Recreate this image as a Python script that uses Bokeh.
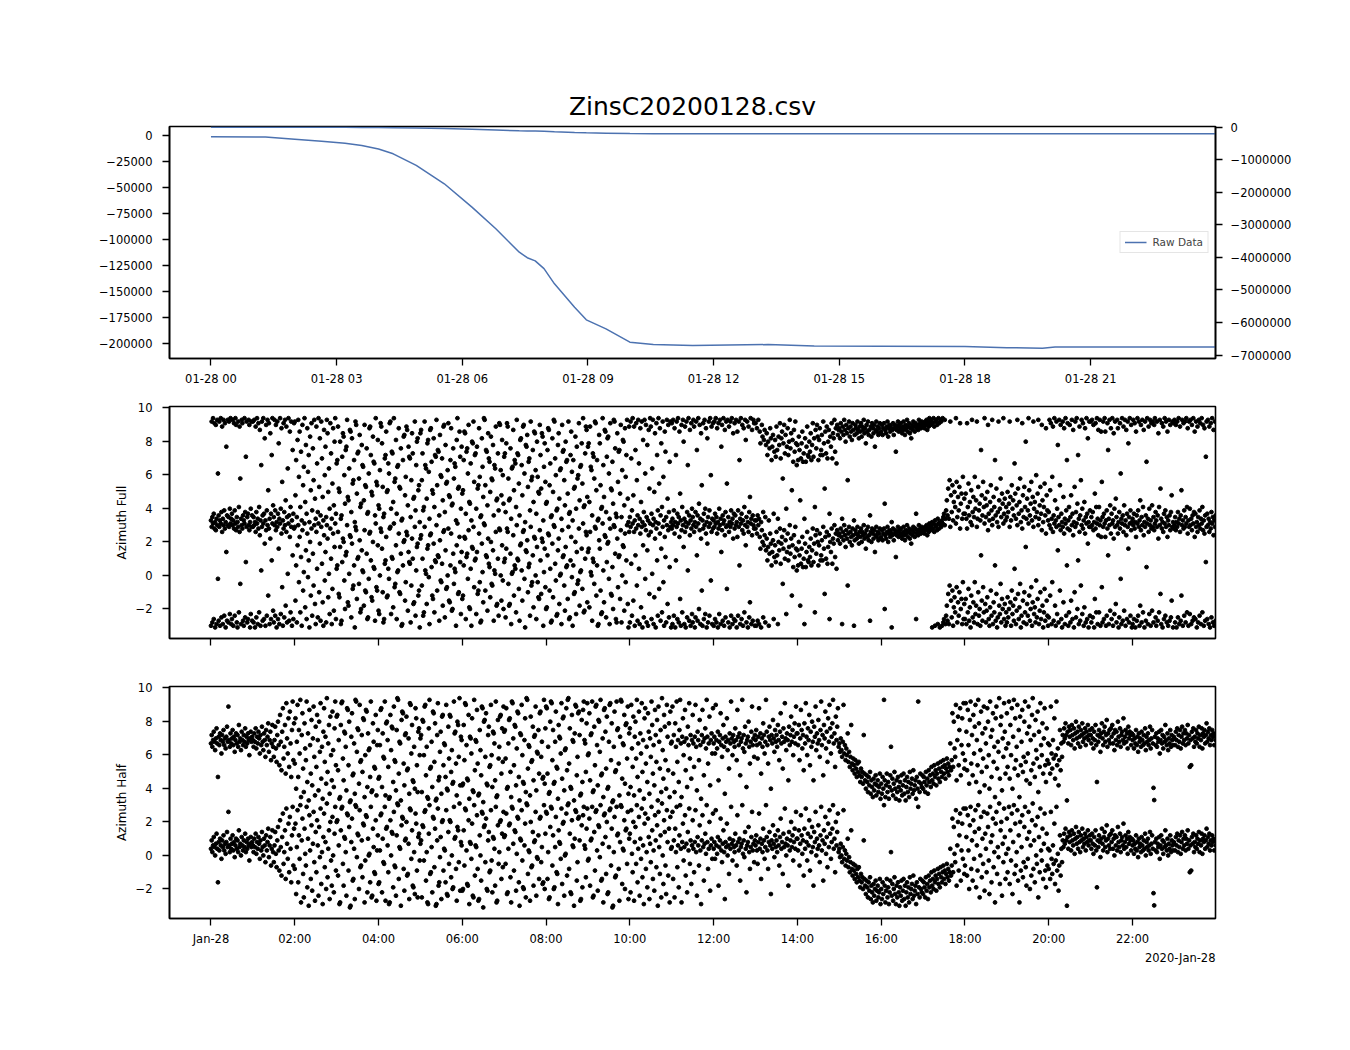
import numpy as np
import pandas as pd
from bokeh.plotting import figure
from bokeh.models import (Range1d, LinearAxis, FixedTicker, DatetimeTickFormatter,
                          Legend, LegendItem, Title, ColumnDataSource, CustomLabelingPolicy)
from bokeh.layouts import column
from bokeh.embed import file_html
from bokeh.resources import INLINE

TITLE = "ZinsC20200128.csv"
DAY = "2020-01-28"
DATE_NOTE = "2020-Jan-28"
FONT = "DejaVu Sans"
BLUE = "#4c72b0"

# ---- top panel: raw data (hours after midnight, value) ----
raw_hours = [0.0, 1.3, 2.0, 2.64, 3.2, 3.6, 4.0, 4.35, 4.9, 5.57, 6.23, 6.8, 7.36, 7.55,
             7.74, 7.95, 8.2, 8.68, 8.96, 9.43, 10.0, 10.56, 11.5, 13.3, 14.4, 16.0,
             18.0, 19.0, 19.85, 20.15, 23.97]
raw_values = [-1300, -1400, -3500, -5500, -7500, -9600, -13000, -17600, -28800, -46400,
              -68900, -89700, -112200, -117500, -120500, -128000, -142600, -165100,
              -177200, -185900, -198700, -201000, -201800, -201000, -202500, -202700,
              -202800, -204000, -204500, -203300, -203300]

# ---- azimuth angles (rad), one row per hour, samples evenly spaced in the hour ----
az_full = [
    [-3.0, 2.9, -2.8, 3.1, -2.6, 2.8, -3.1, 2.7, -2.9, 3.0, -0.2, -2.7, 2.9, -3.0, 3.1, -2.5, 2.6, -2.9, 3.0, -2.4, 2.8, -3.1, 1.4, -2.7, 3.0, -2.8, 2.9, -2.3, 3.1, -2.9,
     -2.6, 3.0, -3.0, 2.8, -2.4, 3.1, 2.7, -2.8, -3.1, 2.9, -2.2, 2.6, -0.5, -2.9, 3.0, 2.8, -2.7, -3.0, 3.1, -2.5, 0.8, 2.9, -2.8, -2.6, 3.0, 2.7, -3.1, -2.3, 2.9, -2.7],
    [2.9, -2.8, 3.0, -3.1, 2.6, -2.5, 3.1, -2.9, 2.8, -2.2, 2.4, -3.0, 0.3, 2.9, -2.7, 3.1, -2.6, 1.9, -3.0, 2.7, -2.4, 3.0, -1.2, 2.8, -2.9, 2.2, -2.6, 0.9, 3.1, -2.1,
     -2.8, 3.0, -2.4, 2.7, -3.1, 2.9, -2.6, 1.6, -2.9, 3.1, -2.3, 2.5, -0.7, -3.0, 2.8, -2.5, 3.0, -1.8, 2.6, -2.8, 0.1, 3.1, -2.7, 2.3, -2.2, 2.9, -3.0, 1.2, -2.6, 2.8],
    [2.9, -1.5, 0.6, -2.8, 1.8, 3.0, -0.4, 2.3, -2.2, 1.1, -3.0, 2.7, -0.9, 0.2, 3.1, -1.9, 1.5, -2.6, 2.5, -0.1, 0.9, -3.1, 2.0, -1.2, 2.8, -2.4, 1.3, -0.6, 3.0, -1.7,
     -2.9, 2.6, 0.4, -2.5, 3.1, -1.0, 1.9, -2.7, 2.9, 0.7, -1.6, -3.0, 2.4, -0.3, 1.4, -2.8, 3.0, 2.2, -1.3, 0.1, -2.3, 2.8, 1.0, -2.9, -0.8, 2.5, -2.1, 1.7, 3.1, -2.6],
    [0.4, 0.6, 2.6, -1.1, -1.3, 1.7, -2.9, -2.7, 0.8, 2.2, 2.0, -0.3, -2.0, 1.2, 1.4, 3.0, -1.6, -1.8, 0.1, 2.4, 2.3, -2.5, 1.9, -0.8, -0.6, 0.6, -3.1, 2.9, 2.7, -1.4,
     1.0, 1.1, -0.5, 2.1, -2.2, -2.0, 1.5, 0.3, 0.2, -1.8, 2.7, -0.9, -1.0, 1.3, -2.6, -2.5, -0.2, 2.5, 2.6, 0.9, -1.3, -1.5, 2.0, 0.5, 0.4, -2.7, 3.1, -0.7, -0.9, 1.8],
    [-2.1, -2.3, 0.0, 2.8, 2.6, 1.6, -1.0, -2.8, -2.6, 0.7, 0.9, 2.3, -1.3, -1.2, 0.4, -0.2, 2.8, 2.9, -2.3, 1.1, 1.0, -1.9, 3.1, -0.7, -0.5, 1.8, -2.6, 0.2, 0.3, 2.5,
     -1.0, -1.1, 1.3, -3.0, -2.9, 0.6, 2.0, 2.1, -1.5, -0.4, 2.6, 2.4, -2.1, 1.4, 0.8, 0.7, -2.8, -0.6, 2.2, 1.0, -1.7, -1.6, 2.9, -2.4, 0.3, 1.7, 1.9, -1.2, -0.9, -3.1],
    [2.2, 2.4, -0.6, 1.0, -2.4, -2.2, 2.9, 0.3, 0.1, -1.7, 1.6, 1.8, -0.1, -2.9, 2.4, 2.5, 0.5, -1.2, -1.4, 1.9, -2.2, 0.9, 0.8, 3.0, -0.9, 1.2, 1.1, -2.7, 2.1, -0.3,
     -0.4, 0.7, -1.8, 2.6, 2.7, -2.5, 1.5, -0.8, -0.7, 0.0, 2.8, -1.5, -1.6, 0.6, 2.5, -2.1, -2.0, 1.3, -0.5, 0.4, 0.2, -3.0, 1.8, 3.1, -1.1, -1.0, 2.3, 0.8, -2.3, 1.4],
    [-1.4, -1.2, 0.6, 2.3, 2.2, -2.6, 1.1, 1.3, -0.2, 2.7, -1.9, -2.0, 0.4, -3.0, 1.7, 1.6, 2.9, -0.7, 0.9, 1.0, -2.3, 1.4, -1.1, -0.9, 2.5, -0.4, -2.8, -2.7, 1.9, 0.2,
     -1.6, 3.1, 3.0, -0.9, 1.2, 1.1, -2.1, 2.2, 0.7, 0.5, -1.3, 2.0, -0.5, -0.6, 1.5, -2.7, 0.3, 0.1, 2.6, -1.8, -1.7, 1.0, -2.4, 2.8, 2.7, 0.0, -1.5, 1.8, -0.3, -2.0],
    [0.8, 1.0, -2.5, 1.6, 2.8, 2.6, -0.5, -1.8, -1.7, 1.3, -2.9, 0.1, 0.2, 2.4, -1.2, 0.6, 0.4, -2.2, 3.0, 1.0, 0.9, -0.8, -2.7, 1.8, 1.9, 0.3, -1.5, 2.6, 2.7, -0.2,
     -3.1, 1.5, 1.4, 2.1, -1.0, 0.5, 0.7, -2.4, 2.9, -0.6, -0.4, 1.2, -1.9, 2.3, 2.2, 0.0, -2.6, 1.7, -0.4, -1.3, -1.4, 2.7, 0.9, -1.1, 2.2, 2.0, -3.0, 0.2, 1.6, -0.7],
    [-2.0, -1.9, 1.2, 2.5, 2.4, -0.9, 0.4, -2.8, -2.7, 1.9, -1.3, 3.0, 2.9, 0.7, -0.3, -2.4, -2.3, 1.5, 2.2, -1.7, 0.0, 0.1, -2.9, 2.7, 1.1, 1.2, -0.6, -2.1, 1.7, 0.5,
     0.6, -1.4, 2.9, -2.6, -2.5, 0.9, 2.3, -0.1, -3.0, 0.6, -1.1, -1.0, 2.0, -2.3, 1.4, -0.5, -0.3, 2.8, -1.8, 0.2, 0.3, 1.6, -0.8, 3.1, -2.2, -2.1, 1.0, 2.6, 2.4, -1.6],
    [1.4, 1.6, -1.9, 2.6, 0.2, 0.0, -2.7, 1.0, 0.8, -0.5, 2.9, 2.8, -1.2, 0.6, -3.0, -2.9, 2.1, 1.6, -0.9, -2.3, -2.2, 3.1, 0.3, -1.6, 2.4, 2.3, -2.5, 0.8, 1.9, 2.0,
     -0.2, -2.9, 2.8, -1.1, -1.2, 0.5, -2.0, 3.0, 2.9, 1.3, -2.6, -2.8, 2.2, -0.7, 1.1, 1.2, -1.4, 2.7, -2.8, 0.0, 1.8, 1.7, -2.1, 2.5, -0.4, 0.9, 3.0, -1.7, -3.1, 2.6],
    [-2.8, 2.9, 0.7, -2.4, 3.1, -1.5, 2.6, -3.0, 1.2, 2.8, -0.6, -2.7, 3.0, 0.4, -2.9, 2.5, -1.9, 2.9, -3.1, 1.8, -2.5, 3.0, -0.2, 2.7, -2.8, 1.5, -3.0, 2.4, -1.1, 3.1,
     2.6, -2.6, 0.1, 3.0, -2.9, -1.3, 2.2, -3.1, 2.8, 0.9, -2.4, 3.1, -0.8, 2.5, -2.7, 1.6, -2.2, 2.9, -0.4, -3.0, 2.3, 1.1, -2.8, 3.0, -1.7, 2.7, -2.5, 0.5, 2.9, -3.1],
    [2.8, -2.9, 3.0, -2.4, 2.5, -3.1, 0.9, 2.9, -2.6, 3.1, -2.8, 2.3, -1.4, -3.0, 2.7, -2.2, 3.0, 1.7, -2.9, 2.6, -3.1, 2.9, -2.5, 0.3, 3.1, -2.7, 2.4, -3.0, 2.8, -2.3,
     -2.8, 3.0, 2.6, -3.1, -2.5, 2.9, 1.2, -2.7, 3.1, -2.0, 2.7, -2.9, 2.2, -0.9, -3.0, 2.8, -2.6, 3.0, -2.3, 2.5, -3.1, 1.9, -2.8, 2.9, -2.4, 3.1, -0.3, 2.6, -2.9, 2.8],
    [-3.0, 2.9, -2.6, 3.1, -2.8, 2.5, -3.1, 2.8, -2.3, 3.0, -2.9, 1.4, 2.7, -2.7, 3.1, -3.0, 2.4, -2.5, 2.9, -0.8, 3.0, -2.8, 2.6, -3.1, 2.9, -2.4, 3.1, -2.9, 2.2, -2.6,
     2.8, -2.7, 3.0, -3.1, 2.3, -2.4, 2.9, 0.6, -2.9, 3.1, -2.6, 2.7, -3.0, 2.5, -2.2, 3.0, 1.8, -2.8, 2.9, -3.1, 2.6, -2.5, -1.6, 3.1, -2.9, 2.4, -2.7, 3.0, 2.8, -3.0],
    [2.8, -3.0, 2.5, -2.7, 3.0, -2.9, 2.3, 1.6, -3.1, 2.7, 2.0, -2.5, 1.8, 2.4, -2.8, 1.5, 2.2, 0.9, 1.7, -3.0, 1.3, 2.5, 1.9, 0.6, 1.4, 2.1, -2.6, 1.1, 1.8, 0.8,
     2.6, 1.2, -2.9, 2.0, 1.5, 2.8, 0.7, 1.9, 2.3, -0.5, 1.6, 2.7, 1.0, 2.1, -2.3, 1.4, 2.5, 0.9, 1.7, 3.0, 1.3, 2.2, -1.2, 1.8, 0.5, 2.4, 1.1, 2.9, 1.6, 0.3],
    [1.5, 0.6, 2.0, 1.2, -1.8, 0.7, 1.6, 2.3, 0.5, 1.0, -2.9, 1.9, 0.5, 1.4, 2.6, 0.9, 0.8, 1.7, 1.1, 2.2, 0.6, 1.5, 2.8, 0.8, 1.9, -2.2, 2.4, 1.3, 2.7, 2.0,
     0.6, 1.8, 2.5, 0.9, 1.2, 2.1, 0.9, 2.9, 1.6, -1.1, 2.3, 1.0, 2.6, 0.7, 1.7, 2.4, -2.6, 2.0, 1.4, 2.8, 0.7, 2.2, 1.9, 3.0, 1.1, 2.5, 0.4, 2.7, 2.1, 2.4],
    [2.5, 1.9, 2.8, 2.3, -2.9, 2.6, 2.1, 3.0, 2.4, 1.7, 2.7, 2.2, -0.6, 2.5, 2.9, 2.0, 2.6, 2.3, 1.8, 2.8, 2.4, -3.0, 2.1, 2.7, 2.5, 2.2, 2.9, 2.4, 1.9, 2.6,
     2.3, 2.8, 2.0, 2.6, 2.4, 3.0, 2.2, 2.5, 1.6, 2.7, 2.3, 2.9, 2.1, 2.4, -2.7, 2.6, 2.0, 2.8, 2.5, 2.2, 2.7, 1.4, 2.4, 2.9, 2.3, 2.6, 2.1, 2.5, 2.8, 2.2],
    [2.3, 2.7, 2.1, 2.5, 2.8, -2.0, 2.4, 2.2, 2.6, 2.9, 2.0, 2.5, 2.7, 2.3, 2.6, -3.1, 2.4, 2.8, 2.1, 2.5, 2.7, 1.1, 2.4, 2.6, 2.9, 2.3, 2.7, 2.5, 2.8, 2.4,
     2.2, 2.6, 2.9, 2.4, 2.1, 2.7, 2.5, 3.0, 2.3, 2.6, 2.8, 2.2, 2.5, 1.9, 2.7, 2.4, 2.9, 2.6, 2.3, 2.8, -2.6, 2.5, 2.7, 2.4, 3.0, 2.6, 2.8, 2.5, 2.9, 2.7],
    [2.6, 2.8, 2.5, 2.9, 2.7, 3.0, 2.4, 2.8, 2.6, 3.1, 2.9, 2.7, 3.0, -3.1, 2.8, 3.1, 2.6, -3.0, 2.9, 3.0, 2.7, -2.9, 3.1, 2.8, -3.1, 3.0, 2.9, -3.0, 3.1, -2.8,
     -2.6, 3.0, -2.9, -2.4, -1.8, -2.7, -1.1, -2.9, -0.6, 2.9, -1.5, -2.5, -0.9, -3.0, -1.9, -1.3, -2.2, 3.1, -0.7, -2.8, -1.6, -2.4, -1.0, 2.8, -2.0, -1.4, -2.9, -0.4, -2.6, -1.7],
    [-2.6, -1.4, -2.9, 2.8, -2.2, -0.8, -2.7, -1.9, -3.1, -1.2, 3.0, -2.5, -1.6, -2.8, -0.4, -2.3, -1.8, 2.9, -2.9, -1.0, -2.4, -2.0, -3.0, 1.2, -1.5, -2.7, -0.7, -2.2, 3.1, -1.7,
     -2.8, -2.1, -1.3, 2.7, -2.6, -3.0, -1.9, -0.9, -2.4, 3.0, -2.9, -1.6, -2.2, 0.6, -2.7, -1.1, -3.1, -2.5, 2.9, -1.8, -2.3, -0.5, -2.8, -1.4, -2.0, 3.1, -2.6, -1.7, -3.0, -2.2],
    [-2.8, -1.3, -2.5, -2.0, 2.9, -1.6, -3.0, -0.9, -2.3, -1.8, -2.7, 0.4, -1.4, -2.9, -2.1, 3.0, -1.1, -2.6, -1.9, -0.5, -3.1, -2.4, 2.8, -1.5, -2.8, -1.0, -2.2, 1.7, -2.9, -1.7,
     -2.4, 3.1, -1.2, -2.7, -2.0, -0.7, -3.0, -1.6, 2.9, -2.3, -1.9, -2.8, -0.3, -2.5, -1.4, 3.0, -2.9, -2.1, -1.0, -2.6, 2.7, -1.8, -3.1, -2.2, -0.8, -2.7, 2.5, -1.5, -2.4, -3.0],
    [-2.5, 3.0, -1.2, 2.8, -2.9, -0.4, 2.6, -2.7, 3.1, -1.8, -3.0, 2.9, -2.3, 1.5, -2.8, 3.0, -0.9, 2.7, -2.6, -3.1, 2.9, -1.6, 2.5, -2.9, 3.1, -2.4, 0.6, 2.8, -3.0, -2.2,
     2.7, -2.8, -1.5, 3.0, -2.6, 2.4, -3.1, -1.0, 2.9, -2.5, 3.1, -2.0, 0.9, -2.9, 2.6, -2.7, -0.6, 3.0, -2.3, 2.8, -3.0, -1.9, 2.5, -2.8, 3.1, -2.6, 1.9, -3.1, 2.9, -2.4],
    [2.9, -2.8, 3.0, -2.5, 2.7, -3.1, -1.4, 2.8, -2.2, 3.1, -2.9, 2.4, -2.2, 3.0, -3.0, 2.3, -0.7, -2.8, 2.9, -2.6, 3.1, 2.3, -3.0, -2.4, 2.8, 1.2, -2.9, 3.0, -2.1, 2.5,
     -2.6, 3.1, -3.0, 2.2, -2.3, 2.9, -1.7, -2.8, 3.0, 2.5, -3.1, -2.5, 2.8, -0.2, -2.9, 3.1, -2.7, 2.6, -2.1, 3.0, -3.0, 2.4, -2.6, 2.9, 1.6, -2.8, 3.1, -2.4, 2.7, -3.1],
    [-2.9, 3.0, -2.6, 2.8, -3.1, 2.3, -2.7, 3.1, -2.4, 2.9, -3.0, -1.8, 2.7, -2.8, 3.0, -2.2, 2.4, -3.1, 2.9, -2.7, 0.5, 3.1, -2.9, 2.6, -2.3, 3.0, -3.0, 2.8, -2.1, 2.9,
     -2.8, 2.7, 3.1, -2.5, -3.0, 2.9, -2.7, 2.2, -2.2, 3.0, -1.1, -2.9, 2.8, -3.1, 2.6, -2.6, 3.1, -2.4, 2.9, -2.8, 2.3, -3.0, 3.0, -2.7, 2.7, -2.5, -1.5, 2.9, -3.1, 2.8],
    [3.0, -2.8, 2.7, -3.1, 2.9, -2.5, 3.1, -2.9, 2.6, -2.7, -1.2, 3.0, -3.0, 2.8, -2.4, 2.9, -2.8, 3.1, -2.2, 2.5, -3.0, 2.9, -2.3, 3.0, -2.9, 2.7, -2.7, 3.1, -2.5, 2.3,
     -2.6, 2.9, -3.1, 2.6, -2.8, 3.0, -2.4, 2.8, -2.9, 3.1, -2.2, 2.7, -3.0, 2.5, -2.7, 0.8, 2.9, -2.6, 3.0, -2.9, 2.6, -3.1, 2.8, -2.5, 3.1, -2.8, 2.4, -3.0, 2.9, -2.7],
]

az_half = [
    [0.4, 0.9, 0.2, 0.6, 1.1, 0.5, 0.0, 0.7, 1.3, 0.4, -1.6, 0.8, 0.3, 1.0, 0.6, -0.2, 0.9, 0.5, 1.2, 0.3, 0.7, 0.1, 0.8, 1.4, 0.5, 2.6, 0.6, 0.2, 1.0, 0.4,
     0.7, 1.2, 0.3, 0.8, -0.1, 0.6, 1.0, 0.4, 0.9, 0.2, 1.5, 0.5, 0.7, 0.0, 1.1, 0.6, 0.3, 0.9, 0.5, 1.3, 0.2, 0.8, 0.4, 1.0, 0.6, -0.3, 0.7, 1.1, 0.5, 0.8],
    [0.6, 0.2, 1.0, 0.5, 1.3, 0.1, 0.8, 0.4, 1.1, 0.7, -0.2, 0.9, 0.3, 1.4, 0.5, 0.0, 1.0, 0.6, -0.4, 1.2, 0.3, 0.8, 1.6, -0.1, 0.6, 1.1, -0.6, 0.4, 1.5, 0.2,
     -0.4, 0.6, 1.4, 0.1, -0.7, 0.9, 1.7, 0.3, -0.9, 2.1, 0.5, -1.2, 1.1, 2.5, -0.5, 0.2, 1.5, -1.4, 2.8, 0.7, -0.2, 1.9, -1.0, 2.3, 0.4, -1.6, 1.2, 2.9, -0.6, 1.6],
    [-0.8, 1.9, -2.3, 0.5, 2.7, -1.6, 1.2, -0.2, 3.0, -2.8, 0.9, 2.2, -1.1, -2.5, 1.6, 0.1, -0.6, 2.9, -1.9, 1.0, -3.0, 2.4, 0.3, -1.4, 1.8, -2.1, 0.7, 2.6, -0.4, -2.7,
     1.4, -1.0, 2.1, 0.6, -2.4, 1.7, -0.1, 2.8, -1.7, 0.2, -2.9, 1.1, 2.5, -0.7, 0.8, -2.0, 3.1, -1.3, 0.4, 1.5, -2.6, 2.0, -0.3, -1.8, 2.3, 0.0, -2.2, 1.3, 2.9, -0.9],
    [2.0, 2.1, -1.2, 0.6, -2.9, -2.8, 1.5, 2.8, 2.9, -0.5, -1.8, 1.1, 1.0, 0.2, -2.4, 2.5, 2.4, -0.9, 1.7, -3.1, -3.0, 0.8, 2.2, -1.5, -1.4, 0.4, -2.6, 3.0, 2.9, -0.1,
     1.3, 1.2, -2.0, 2.7, -0.7, -0.6, 0.9, -1.3, 1.9, 1.8, -2.8, -0.3, 2.4, 2.3, -2.2, 1.0, 0.0, 0.1, -1.6, 2.9, -2.5, -2.4, 1.6, 0.5, -1.0, -1.1, 2.1, -2.7, 0.3, 1.2],
    [-1.7, -1.6, 0.3, 2.4, 2.5, -2.2, 1.0, -0.4, -0.5, 2.9, -2.7, 1.6, 1.7, 0.6, -1.0, -2.9, -2.8, 2.1, 0.0, 1.4, 1.3, -1.9, 2.6, -0.6, -0.7, -2.4, 1.2, 3.1, 3.0, -1.4,
     0.5, 0.4, -3.0, 1.8, 2.3, 2.2, -0.8, -2.1, 0.9, 1.0, 2.0, -1.2, -1.1, 0.7, -2.6, 2.8, 2.7, -0.2, 1.5, -1.8, -1.9, 0.2, -2.3, 2.5, 1.9, -0.9, -2.5, 1.1, 1.3, -0.3],
    [0.7, 0.9, -2.5, 1.8, 1.7, -0.3, 2.6, 2.7, -1.5, 0.2, -2.8, -2.9, 1.3, 3.0, -1.1, -1.0, 0.5, -2.2, 2.3, 2.2, -0.7, 1.6, -3.0, -2.9, 0.9, 2.8, -1.8, -1.6, -0.1, 1.1,
     -2.6, 2.0, 2.1, -0.9, 0.4, 0.3, -1.6, 2.7, -2.3, -2.4, 1.4, -0.5, 2.1, 2.0, -1.3, 0.0, -2.0, -1.9, 2.9, 1.0, 1.1, -0.8, -2.7, 1.7, 1.5, -0.4, 3.1, -2.1, 0.8, 0.6],
    [-2.1, -2.0, 1.5, -0.6, 2.8, 2.7, 0.3, -1.7, -1.8, 2.1, -2.9, 0.8, 0.7, -0.2, 1.9, -2.4, -2.5, 3.0, -1.2, 0.6, 0.5, 2.4, -0.8, -2.7, -2.6, 1.2, 0.0, -1.5, 2.6, 2.5,
     -3.1, 1.7, 1.8, -0.4, 2.2, -2.0, -2.1, 0.9, 1.4, -1.0, -0.9, 2.7, -0.3, -2.2, 1.1, 1.0, 0.4, -1.8, 2.9, -2.8, -2.7, 1.8, -0.5, 0.2, 2.0, 2.1, -1.4, 1.3, -0.7, 2.6],
    [1.1, 1.2, -0.5, 2.5, -2.3, -2.2, 0.4, 1.8, 1.9, -1.3, -2.8, 2.9, 2.8, 0.7, -0.9, 1.5, 1.4, -2.1, 0.1, 2.3, 2.2, -1.6, -3.0, 1.0, 0.9, 2.7, -0.3, -1.9, -2.0, 0.6,
     1.9, -2.5, 3.1, 3.0, -1.1, 0.3, 0.2, -2.7, 2.0, -0.7, -0.6, 1.4, -1.8, 0.8, 0.9, 2.6, -2.4, -0.1, -0.2, 1.2, -1.4, 2.2, 2.3, -0.4, 0.5, -1.7, -1.6, 3.0, -2.0, 1.3],
    [2.6, 2.5, -1.4, 0.2, -2.6, -2.5, 1.7, 2.9, 2.8, -0.6, 1.2, -2.0, -1.9, 0.5, 2.3, -1.0, -1.1, -2.9, 1.5, 0.8, 0.7, -0.2, 2.8, -1.7, 1.9, 2.0, -2.4, 0.0, 0.1, 2.5,
     -1.2, 3.0, 3.1, -0.8, 1.3, -2.2, -2.3, 2.1, 0.6, 0.5, -3.0, 1.0, 2.7, 2.6, -1.5, -0.4, 2.2, 2.3, 0.9, -2.7, -2.6, 1.8, -1.9, 2.4, 2.9, 0.6, 0.4, -1.3, 1.6, 2.8],
    [-0.3, -0.2, 2.2, -1.8, 0.9, 1.0, 2.9, -2.5, -2.4, 1.4, -0.9, 2.6, 2.7, 0.3, -2.1, 1.8, 1.7, -0.1, 3.0, -1.5, -1.4, 0.7, -2.8, 2.4, 2.5, 1.1, -1.1, 2.0, -2.3, -2.2,
     0.5, 2.7, 2.8, -0.6, 1.6, -3.1, -3.0, 0.2, 2.3, -1.3, -1.2, 2.9, 1.2, 1.3, -0.8, -2.7, 0.8, 3.0, 2.9, -1.7, 0.4, 0.3, 2.1, -2.0, 1.5, 1.6, -0.5, 2.6, -2.6, 1.0],
    [1.3, -2.2, 2.7, 0.1, -1.0, 2.0, -2.7, 0.8, 1.7, -0.5, 3.0, -1.6, 0.4, 2.3, -2.4, 1.0, -0.2, 2.8, -1.3, 0.6, -2.9, 1.9, 2.5, -0.8, 0.2, -1.9, 2.2, 1.1, -2.6, 0.7,
     -0.4, 2.9, 1.5, -1.4, 0.3, -2.1, 2.4, 0.9, -0.7, 1.8, -3.0, 2.6, 0.5, -1.1, 1.2, -2.5, 3.1, 0.0, -1.7, 2.1, 1.4, -0.6, -2.3, 2.7, 0.8, -1.2, 1.6, -2.8, 2.3, 0.4],
    [0.5, 2.6, -1.4, 0.9, -2.5, 1.6, 0.2, 2.9, -0.7, 0.6, -1.9, 1.2, 3.0, 0.4, -2.8, 0.8, 1.9, -0.3, 0.5, 2.4, -1.2, 0.7, -2.2, 1.4, 0.3, 2.8, -0.5, 0.9, -1.7, 0.6,
     2.1, 0.4, -1.0, 0.8, 2.7, 0.2, -2.4, 1.1, 0.6, -0.6, 1.8, 0.3, -2.9, 0.9, 2.4, 0.5, -1.5, 0.7, 1.3, 0.1, 3.0, 0.8, -0.8, 0.4, 2.0, -2.1, 0.6, 1.0, -0.2, 2.5],
    [0.4, 0.8, -0.2, 2.7, 0.6, 0.1, 1.1, -1.8, 0.5, 0.9, 2.2, 0.3, -0.4, 0.7, 1.5, 0.2, -2.6, 0.8, 0.5, 1.9, 0.0, 0.6, -1.1, 1.0, 0.4, 2.9, 0.7, -0.3, 0.9, 0.5,
     0.2, 1.3, 0.6, -0.6, 2.4, 0.8, 0.3, 1.0, -1.5, 0.5, 0.7, 3.0, 0.1, 0.9, -0.1, 1.4, 0.4, -2.2, 0.6, 0.8, 1.7, 0.2, -0.8, 0.5, 1.1, 2.6, 0.3, 0.7, -0.4, 0.9],
    [0.6, 1.2, 0.3, -0.5, 0.8, 2.5, 0.4, 1.0, -1.4, 0.7, 0.2, 1.6, 0.9, -0.2, 0.5, 3.0, 1.1, 0.3, -0.8, 0.8, 1.4, 0.6, -2.3, 0.9, 0.4, 1.8, 0.7, -0.1, 1.2, 0.5,
     0.9, 0.2, 1.5, 0.6, -0.6, 1.1, 2.2, 0.4, 0.8, -1.1, 1.3, 0.5, 2.8, 0.7, 0.0, 1.0, 0.6, -1.8, 1.4, 0.3, 0.9, 2.0, 0.5, 1.2, -0.3, 0.8, 1.6, 0.4, 2.6, 1.0],
    [1.0, 0.3, 1.5, -0.6, 0.7, 2.4, 1.2, 0.1, 0.9, -1.2, 1.6, 0.4, 2.8, 0.8, -0.3, 1.3, 0.6, 2.1, -0.9, 1.1, 0.2, 1.7, 0.5, -1.8, 1.4, 0.8, 2.6, 0.0, 1.0, 0.4,
     1.8, 0.6, -0.4, 1.2, 2.9, 0.3, 0.9, -1.5, 1.5, 0.7, 2.3, 0.1, 1.1, -0.7, 1.9, 0.5, 2.7, 1.3, -0.2, 0.8, 1.6, 3.0, 0.4, 1.0, -1.0, 2.0, 0.6, 1.4, 2.5, 0.2],
    [0.4, -0.1, 0.7, 0.0, -0.4, 0.5, 2.7, -0.2, 0.3, -0.6, 0.1, -0.3, 1.0, -0.7, -0.1, -1.0, -0.4, 1.5, -0.8, -1.2, -0.5, -0.9, -1.4, -0.6, -1.1, -1.6, -0.8, -1.3, -0.7, -1.5,
     -1.9, -1.1, -1.6, -1.3, -2.0, 0.9, -1.4, -1.8, -2.3, -1.5, -1.9, -2.5, -1.6, -2.1, -1.3, -2.6, -1.8, -2.2, -2.8, -1.7, -2.4, -2.0, -1.5, -2.7, -2.1, -1.8, -2.5, -2.2, -1.4, -2.9],
    [-2.0, -2.6, -1.6, -2.3, 3.0, -1.8, -2.8, -2.1, -1.4, -2.5, -1.9, -2.9, -2.2, -1.5, 0.2, -2.4, -1.7, -2.7, -2.0, -1.3, -2.3, -2.9, -1.8, -2.5, -1.6, -2.2, -3.0, -1.9, -2.4, -1.5,
     -2.7, -2.1, -1.4, -2.6, -1.8, -3.0, -2.2, -1.6, -2.5, -1.9, -2.8, -1.3, -2.3, -2.0, -1.7, -2.6, -1.2, -2.4, -2.1, -1.8, -2.9, -1.6, -2.3, 2.9, -1.9, -2.5, -1.4, -2.0, -2.2, -1.5],
    [-2.3, -1.6, -1.9, -2.5, -1.3, -2.1, -1.7, -2.6, -1.2, -1.9, -1.5, -2.2, -1.0, -1.8, -1.4, -2.0, -0.9, -1.6, -1.2, -2.1, -1.4, -0.8, -1.7, -1.1, -1.9, -0.7, -1.3, -1.6, -1.0, -0.6,
     -1.4, -0.9, -1.7, -1.1, -0.5, -1.3, -0.8, -1.5, -1.0, 0.4, -1.2, -0.6, 2.2, -1.0, 1.7, 0.1, -0.4, 2.7, -1.8, 0.6, 2.0, -0.9, 1.2, 2.5, -1.5, 0.3, 1.9, -0.2, 2.8, -1.1],
    [-0.6, 2.8, 1.1, -1.2, 2.4, 0.3, -2.0, 1.8, 2.9, -0.8, 0.9, -1.5, 2.1, -0.2, 1.4, 2.7, -1.9, 0.6, -0.9, 3.0, 1.6, -2.5, 0.0, 2.3, -1.3, 1.0, -0.5, 2.6, -2.1, 1.3,
     0.4, -1.0, 2.5, 1.7, -0.3, -2.3, 2.9, 0.8, -1.6, 1.2, 2.2, -0.7, 0.2, -2.8, 1.9, 2.6, -1.1, 0.5, -0.1, 3.1, -1.7, 1.5, 2.0, -2.4, 0.7, -0.4, 2.8, 1.1, -1.4, 0.1],
    [2.2, -1.0, 0.4, 2.9, -1.7, 1.5, -0.3, 2.5, -2.3, 0.8, 3.0, -1.1, 1.9, -0.6, 0.2, 2.7, -1.5, 1.2, -2.8, 2.0, -0.9, 0.5, 2.4, -1.3, -0.4, 1.7, 2.9, -0.7, -1.8, 1.0,
     -0.2, 2.6, 1.4, -2.0, 0.6, -1.2, 2.1, 3.1, -0.8, 0.9, -1.6, 1.8, 0.0, -0.5, 2.3, -2.5, 1.1, -1.0, 2.8, 0.3, -0.3, 1.6, -1.4, 0.7, 2.5, -0.9, -1.9, 1.3, -0.6, 0.4],
    [-0.8, 0.3, -1.4, 2.6, -0.2, -1.1, 0.6, -0.5, 1.9, -1.7, -0.3, 2.9, -0.9, 0.1, -2.1, -0.6, 1.2, -1.2, 0.4, -0.4, 0.9, 0.5, 1.3, 0.7, 1.6, 0.9, -3.0, 1.1, 0.4, 1.4,
     0.8, 1.2, 0.3, 1.5, 0.9, 0.6, 1.3, 0.1, 1.0, 1.7, 0.7, 1.1, 0.4, 1.4, 0.8, 0.2, 1.2, 0.9, 1.6, 0.5, 1.0, 0.7, 1.3, 0.3, 1.1, 0.8, 1.5, 0.6, 0.9, 1.2],
    [0.9, 0.4, 1.3, 0.7, 0.1, 1.1, 0.6, 1.5, 0.3, -1.9, 0.9, 0.5, 1.2, 0.8, -0.1, 1.0, 1.6, 0.7, 0.3, 1.1, 1.4, 0.5, 0.9, 1.8, 0.2, 1.0, 0.6, 1.2, 0.4, 1.3,
     0.8, 1.5, 0.4, 1.0, 0.0, 1.2, 0.6, 1.1, 0.3, 1.7, 0.8, 0.5, 1.3, 0.2, 0.9, 1.1, 0.6, 1.9, 0.4, 0.8, 1.2, 0.5, 1.0, 0.1, 1.4, 0.7, 1.1, 0.9, 0.3, 1.0],
    [0.6, 0.9, 0.1, 0.7, 0.4, 1.2, 0.3, 0.8, -0.1, 1.0, 0.5, 0.7, 0.2, 1.1, 0.6, 0.3, 0.9, 0.4, 1.3, 0.0, 0.8, 0.5, 1.0, 0.3, 0.6, 1.4, 0.1, 0.7, 1.2, 0.4,
     -2.25, -2.98, 0.8, 0.3, 1.0, 0.2, 0.7, 0.5, 1.1, -0.2, 0.6, 1.2, 0.4, 0.9, 0.1, 0.8, 0.5, 1.5, 0.6, 0.3, 1.0, 0.0, 0.7, 0.4, 1.2, 0.2, 0.9, 0.6, 0.3, 0.8],
    [0.7, 0.3, 1.1, 0.6, 1.3, 0.2, 0.9, 0.5, 1.2, 0.1, 0.8, 1.4, 0.4, 1.0, 0.6, 1.2, 0.3, 1.0, 0.7, 1.5, 0.4, 0.9, -1.0, 0.6, -0.9, 1.1, 0.7, 1.3, 0.2, 0.8,
     0.5, 1.2, 0.4, 1.0, 0.7, 1.4, 0.2, 0.9, 0.6, 1.3, 0.1, 1.0, 0.8, 1.2, 0.4, 0.9, 1.6, 0.5, 1.1, 0.7, 1.3, 0.3, 0.9, 0.6, 1.2, 0.8, 1.0, 0.3, 0.9, 0.6],
]

left_ticks = [0, -25000, -50000, -75000, -100000, -125000, -150000, -175000, -200000]
right_ticks = [0, -1000000, -2000000, -3000000, -4000000, -5000000, -6000000, -7000000]
az_ticks = [-2, 0, 2, 4, 6, 8, 10]
top_tick_hours = [0, 3, 6, 9, 12, 15, 18, 21]
bottom_tick_hours = [0, 2, 4, 6, 8, 10, 12, 14, 16, 18, 20, 22]

HOUR_MS = 3600 * 1000
base_ms = pd.Timestamp(DAY).value // 10**6


def minus(v):
    return str(v).replace("-", "\u2212")


def times_for(rows):
    t, a = [], []
    for h, row in enumerate(rows):
        n = len(row)
        for j, v in enumerate(row):
            t.append(base_ms + (h + j / n) * HOUR_MS)
            a.append(v)
    return t, a


x_range = Range1d(base_ms - 0.99 * HOUR_MS, base_ms + 23.98 * HOUR_MS)


def style(p):
    p.grid.visible = False
    p.outline_line_color = "black"
    p.outline_line_width = 1.6
    p.outline_line_alpha = 1.0
    p.background_fill_color = "white"
    p.border_fill_color = "white"
    for ax in p.axis:
        ax.axis_line_width = 1.6
        ax.axis_line_color = "black"
        ax.major_tick_line_width = 1.3
        ax.major_tick_line_color = "black"
        ax.major_tick_out = 7
        ax.major_tick_in = 0
        ax.minor_tick_line_color = None
        ax.major_label_text_font = FONT
        ax.major_label_text_font_size = "11.5px"
        ax.major_label_text_color = "black"
        ax.axis_label_text_font = FONT
        ax.axis_label_text_font_size = "12px"
        ax.axis_label_text_font_style = "normal"
        ax.axis_label_text_color = "black"
    for ax in p.xaxis:
        ax.major_label_standoff = 6
    for ax in p.yaxis:
        ax.major_label_standoff = 10


# ---------------- top panel ----------------
p1 = figure(x_axis_type="datetime", x_range=x_range,
            y_range=Range1d(-214400, 8650),
            frame_width=1046, frame_height=232,
            min_border_left=169, min_border_right=110,
            min_border_top=126, min_border_bottom=37,
            output_backend="svg", toolbar_location=None)
p1.extra_y_ranges = {"right": Range1d(-7104000, 18000)}
p1.add_layout(LinearAxis(y_range_name="right"), "right")

raw_t = [base_ms + h * HOUR_MS for h in raw_hours]
src_raw = ColumnDataSource(dict(t=raw_t, v=raw_values))
l1 = p1.line("t", "v", source=src_raw, line_color=BLUE, line_width=1.5)
l2 = p1.line("t", "v", source=src_raw, line_color=BLUE, line_width=1.5, y_range_name="right")

p1.title.text = TITLE
p1.title.align = "center"
p1.title.text_font = FONT
p1.title.text_font_size = "25px"
p1.title.text_font_style = "normal"
p1.title.text_color = "black"
p1.title.standoff = 11

style(p1)
p1.xaxis.ticker = FixedTicker(ticks=[base_ms + h * HOUR_MS for h in top_tick_hours])
fmt_top = "%m-%d %H"
p1.xaxis.formatter = DatetimeTickFormatter(minutes=fmt_top, hourmin=fmt_top, hours=fmt_top,
                                           days=fmt_top, months=fmt_top, boundary_scaling=False)
p1.yaxis[0].ticker = FixedTicker(ticks=left_ticks)
p1.yaxis[0].major_label_overrides = {v: minus(v) for v in left_ticks}
p1.yaxis[1].ticker = FixedTicker(ticks=right_ticks)
p1.yaxis[1].major_label_overrides = {v: minus(v) for v in right_ticks}
p1.yaxis[1].major_label_standoff = 8

legend = Legend(items=[LegendItem(label="Raw Data", renderers=[l1])],
                location="right", margin=7, padding=4, spacing=0,
                glyph_width=22, glyph_height=10, label_height=10, label_standoff=6,
                label_text_font=FONT, label_text_font_size="10.5px",
                border_line_color="#cccccc", border_line_width=1,
                background_fill_alpha=0.8)
p1.add_layout(legend)


# ---------------- azimuth panels ----------------
def az_panel(rows, label, top, bottom, show_labels):
    p = figure(x_axis_type="datetime", x_range=x_range,
               y_range=Range1d(-3.76, 10.08),
               frame_width=1046, frame_height=232,
               min_border_left=169, min_border_right=110,
               min_border_top=top, min_border_bottom=bottom,
               output_backend="svg", toolbar_location=None)
    t, a = times_for(rows)
    a2 = [v + 2 * np.pi for v in a]
    src = ColumnDataSource(dict(t=t, a=a, a2=a2))
    p.scatter("t", "a", source=src, size=3.8, color="black")
    p.scatter("t", "a2", source=src, size=3.8, color="black")
    style(p)
    p.yaxis.axis_label = label
    p.yaxis.axis_label_standoff = 4
    p.yaxis.ticker = FixedTicker(ticks=az_ticks)
    p.yaxis.major_label_overrides = {v: minus(v) for v in az_ticks}
    p.xaxis.ticker = FixedTicker(ticks=[base_ms + h * HOUR_MS for h in bottom_tick_hours])
    fmt = "%H:%M"
    p.xaxis.formatter = DatetimeTickFormatter(minutes=fmt, hourmin=fmt, hours=fmt,
                                              days=fmt, months=fmt, boundary_scaling=False)
    p.xaxis.major_label_overrides = {base_ms: "Jan-28"}
    if not show_labels:
        p.xaxis.major_label_policy = CustomLabelingPolicy(
            code="for (const i of indices) { indices.unset(i) }\nreturn indices")
    return p


p2 = az_panel(az_full, "Azimuth Full", 11, 27, False)
p3 = az_panel(az_half, "Azimuth Half", 18, 57, True)
note = Title(text=DATE_NOTE, align="right", text_font=FONT, text_font_size="11.5px",
             text_font_style="normal", text_color="black", standoff=0)
p3.add_layout(note, "below")

layout = column(p1, p2, p3, spacing=0)
open("out.html", "w").write(file_html(layout, INLINE))
